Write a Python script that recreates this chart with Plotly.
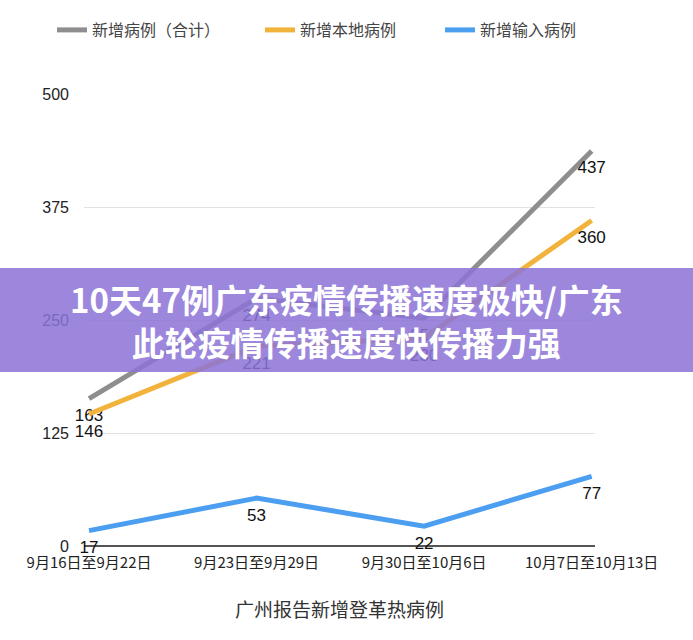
import plotly.graph_objects as go

categories = ["9月16日至9月22日", "9月23日至9月29日", "9月30日至10月6日", "10月7日至10月13日"]
total = [163, 274, 252, 437]
local = [146, 221, 230, 360]
imported = [17, 53, 22, 77]
series_names = ["新增病例（合计）", "新增本地病例", "新增输入病例"]
y_ticks = [0, 125, 250, 375, 500]

colors = ["#8e8e8e", "#f2b33d", "#4c9ff0"]
legend_ids = ["legend", "legend2", "legend3"]
legend_x_px = [52, 260, 440]
FONT = "Noto Sans CJK SC, Liberation Sans, sans-serif"

fig = go.Figure()
for name, vals, c, lg in zip(series_names, [total, local, imported], colors, legend_ids):
    fig.add_trace(go.Scatter(
        x=list(range(len(categories))), y=vals, name=name, mode="lines+markers+text",
        line=dict(color=c, width=5),
        marker=dict(size=14, color="rgba(0,0,0,0)"),
        text=[str(v) for v in vals], textposition="bottom center",
        textfont=dict(size=17, color="#111", family="Liberation Sans, sans-serif"),
        cliponaxis=False, legend=lg,
    ))

legend_common = dict(orientation="h", xref="container", y=1 - 30 / 640, yref="container",
                     yanchor="middle", xanchor="left", itemwidth=30,
                     bgcolor="rgba(0,0,0,0)",
                     font=dict(size=16, color="#444", family=FONT))

fig.update_layout(
    width=693, height=640,
    margin=dict(l=84, r=98, t=94, b=94),
    paper_bgcolor="white", plot_bgcolor="white",
    font=dict(family=FONT, color="#333"),
    showlegend=True,
    legend=dict(x=legend_x_px[0] / 693, **legend_common),
    legend2=dict(x=legend_x_px[1] / 693, **legend_common),
    legend3=dict(x=legend_x_px[2] / 693, **legend_common),
    xaxis=dict(range=[-0.03, 3.02], tickmode="array", tickvals=list(range(len(categories))),
               ticktext=categories, showgrid=False, zeroline=False, showline=False,
               tickfont=dict(size=15, color="#222", family=FONT), ticks="", ticklen=0,
               ticklabelstandoff=6),
    yaxis=dict(range=[0, 500], tickvals=y_ticks, showgrid=True, gridcolor="#e2e2e2",
               gridwidth=1, zeroline=True, zerolinecolor="#555", zerolinewidth=1.5,
               showline=False, ticks="", ticklabelstandoff=14,
               tickfont=dict(size=16, color="#222", family="Liberation Sans, sans-serif")),
)

fig.add_annotation(text="广州报告新增登革热病例", xref="paper", yref="paper", x=(339 - 84) / 511,
                   y=-(608 - 546) / 452,
                   showarrow=False, font=dict(size=19, color="#333", family=FONT), yanchor="middle")

# overlay banner
fig.add_shape(type="rect", xref="paper", yref="paper", x0=-0.2, x1=1.25,
              y0=(640 - 94 - 372) / 452, y1=(640 - 94 - 268) / 452,
              fillcolor="rgba(140,115,215,0.86)", line=dict(width=0), layer="above")
fig.add_annotation(text="<b>10天47例广东疫情传播速度极快/广东<br>此轮疫情传播速度快传播力强</b>",
                   xref="paper", yref="paper", x=(346 - 84) / 511, y=(640 - 94 - 320) / 452,
                   showarrow=False, align="center", yanchor="middle",
                   font=dict(size=33, color="white", family="Noto Sans CJK SC, sans-serif", weight=900))

fig.write_html("out.html")
